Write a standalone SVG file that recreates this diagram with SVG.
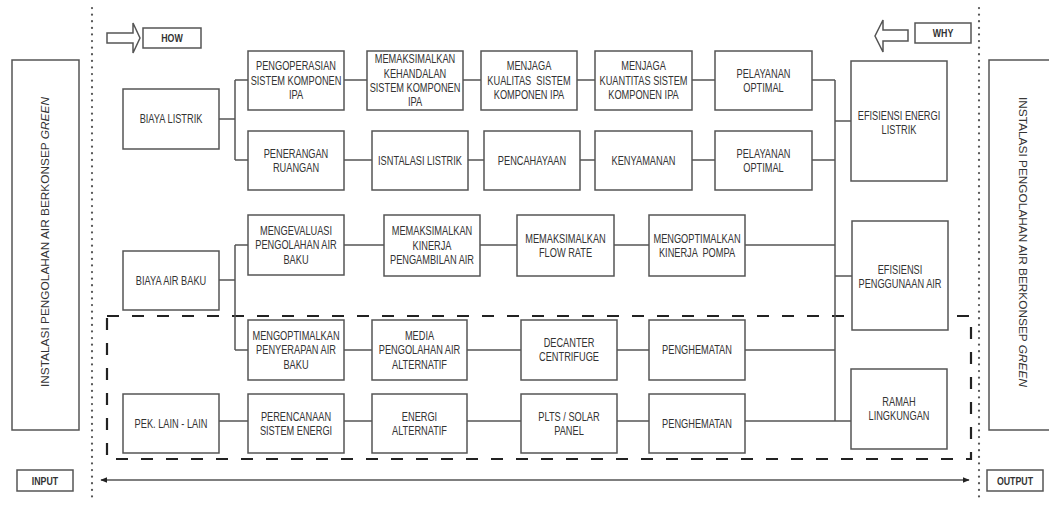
<svg xmlns="http://www.w3.org/2000/svg" width="1049" height="506" viewBox="0 0 1049 506">
<defs>
<style>
.b{fill:#fff;stroke:#555;stroke-width:1.5}
.t{font-family:"Liberation Sans",Arial,sans-serif;font-size:12px;fill:#333;text-anchor:middle}
.k{font-family:"Liberation Sans",Arial,sans-serif;font-size:11px;font-weight:bold;fill:#333;text-anchor:middle}
.s{font-family:"Liberation Sans",Arial,sans-serif;font-size:10.5px;fill:#333;text-anchor:middle}
.c{fill:none;stroke:#555;stroke-width:1.5}
.dot{fill:none;stroke:#555;stroke-width:2.2;stroke-dasharray:0.1 6.5;stroke-linecap:round}
.dash{fill:none;stroke:#222;stroke-width:2.2;stroke-dasharray:12 13}
</style>
<marker id="ah" viewBox="0 0 10 10" refX="9" refY="5" markerWidth="7" markerHeight="7" orient="auto-start-reverse" markerUnits="userSpaceOnUse">
<path d="M0,1 L10,5 L0,9 z" fill="#222"/>
</marker>
</defs>
<rect width="1049" height="506" fill="#fff"/>

<g id="guides">
<line class="dot" x1="92" y1="8" x2="92" y2="502"/>
<line class="dot" x1="979" y1="8" x2="979" y2="502"/>
<rect class="dash" x="107" y="316" width="864" height="143"/>
</g>

<g id="side-left">
<rect class="b" x="12" y="60" width="67" height="370"/>
<text class="s" transform="translate(49,242) rotate(-90)" textLength="290" lengthAdjust="spacingAndGlyphs">INSTALASI PENGOLAHAN AIR BERKONSEP <tspan font-style="italic">GREEN</tspan></text>
</g>
<g id="side-right">
<rect class="b" x="989" y="60" width="70" height="370"/>
<text class="s" transform="translate(1019,242) rotate(90)" textLength="290" lengthAdjust="spacingAndGlyphs">INSTALASI PENGOLAHAN AIR BERKONSEP <tspan font-style="italic">GREEN</tspan></text>
</g>

<g id="how">
<path class="b" d="M107,33 L133,33 L133,23 L140,38 L133,53 L133,43 L107,43 Z"/>
<rect class="b" x="143" y="28" width="58" height="20"/>
<text class="k" transform="translate(172,42) scale(0.8,1)">HOW</text>
</g>
<g id="why">
<path class="b" d="M908,30 L883,30 L883,20 L875,36 L883,52 L883,41 L908,41 Z"/>
<rect class="b" x="915" y="23" width="56" height="20"/>
<text class="k" transform="translate(943,37) scale(0.8,1)">WHY</text>
</g>
<g id="input">
<rect class="b" x="17" y="470" width="56" height="21"/>
<text class="k" transform="translate(45,484.5) scale(0.8,1)">INPUT</text>
</g>
<g id="output">
<rect class="b" x="987" y="470" width="56" height="21"/>
<text class="k" transform="translate(1015,484.5) scale(0.8,1)">OUTPUT</text>
</g>

<g id="connectors">
<line class="c" x1="101" y1="480" x2="969" y2="480" marker-start="url(#ah)" marker-end="url(#ah)"/>
<path class="c" d="M219,119 H235 M235,80 V160 M235,80 H248 M235,160 H248"/>
<path class="c" d="M344,80 H367 M463,80 H481 M577,80 H595 M692,80 H715 M812,80 H835"/>
<path class="c" d="M344,160 H372 M468,160 H484 M580,160 H595 M692,160 H715 M812,160 H835"/>
<path class="c" d="M835,80 V421 M835,121 H851 M835,276 H852 M835,421 H851"/>
<path class="c" d="M219,280 H235 M235,245 V350 M235,245 H248 M235,350 H248"/>
<path class="c" d="M344,245 H384 M480,245 H517 M614,245 H649 M745,245 H835"/>
<path class="c" d="M344,350 H372 M467,350 H521 M617,350 H649 M745,350 H835"/>
<path class="c" d="M219,421 H248 M344,421 H372 M467,421 H521 M617,421 H649 M745,421 H835"/>
</g>

<g id="biaya-listrik"><rect class="b" x="123" y="89" width="96" height="60"/>
<text class="t" transform="translate(171,123.3) scale(0.77,1)">BIAYA LISTRIK</text></g>

<g id="pengoperasian"><rect class="b" x="248" y="51" width="96" height="59"/>
<text class="t" transform="translate(296,70.3) scale(0.77,1)"><tspan x="0" y="0">PENGOPERASIAN</tspan><tspan x="0" dy="14.5">SISTEM KOMPONEN</tspan><tspan x="0" dy="14.5">IPA</tspan></text></g>

<g id="kehandalan"><rect class="b" x="367" y="51" width="96" height="59"/>
<text class="t" transform="translate(415,63.3) scale(0.77,1)"><tspan x="0" y="0">MEMAKSIMALKAN</tspan><tspan x="0" dy="14.3">KEHANDALAN</tspan><tspan x="0" dy="14.3">SISTEM KOMPONEN</tspan><tspan x="0" dy="14.3">IPA</tspan></text></g>

<g id="kualitas"><rect class="b" x="481" y="51" width="96" height="59"/>
<text class="t" transform="translate(529,70.3) scale(0.77,1)"><tspan x="0" y="0">MENJAGA</tspan><tspan x="0" dy="14.5" xml:space="preserve">KUALITAS  SISTEM</tspan><tspan x="0" dy="14.5">KOMPONEN IPA</tspan></text></g>

<g id="kuantitas"><rect class="b" x="595" y="51" width="97" height="59"/>
<text class="t" transform="translate(643.5,70.3) scale(0.77,1)"><tspan x="0" y="0">MENJAGA</tspan><tspan x="0" dy="14.5">KUANTITAS SISTEM</tspan><tspan x="0" dy="14.5">KOMPONEN IPA</tspan></text></g>

<g id="pelayanan-1"><rect class="b" x="715" y="51" width="97" height="59"/>
<text class="t" transform="translate(763.5,77.6) scale(0.77,1)"><tspan x="0" y="0">PELAYANAN</tspan><tspan x="0" dy="14.5">OPTIMAL</tspan></text></g>

<g id="penerangan"><rect class="b" x="248" y="131" width="96" height="59"/>
<text class="t" transform="translate(296,157.6) scale(0.77,1)"><tspan x="0" y="0">PENERANGAN</tspan><tspan x="0" dy="14.5">RUANGAN</tspan></text></g>

<g id="instalasi"><rect class="b" x="372" y="131" width="96" height="59"/>
<text class="t" transform="translate(420,164.8) scale(0.77,1)">ISNTALASI LISTRIK</text></g>

<g id="pencahayaan"><rect class="b" x="484" y="131" width="96" height="59"/>
<text class="t" transform="translate(532,164.8) scale(0.77,1)">PENCAHAYAAN</text></g>

<g id="kenyamanan"><rect class="b" x="595" y="131" width="97" height="59"/>
<text class="t" transform="translate(643.5,164.8) scale(0.77,1)">KENYAMANAN</text></g>

<g id="pelayanan-2"><rect class="b" x="715" y="131" width="97" height="59"/>
<text class="t" transform="translate(763.5,157.6) scale(0.77,1)"><tspan x="0" y="0">PELAYANAN</tspan><tspan x="0" dy="14.5">OPTIMAL</tspan></text></g>

<g id="efisiensi-energi"><rect class="b" x="851" y="61" width="96" height="120"/>
<text class="t" transform="translate(899,120) scale(0.77,1)"><tspan x="0" y="0">EFISIENSI ENERGI</tspan><tspan x="0" dy="14.5">LISTRIK</tspan></text></g>

<g id="biaya-air-baku"><rect class="b" x="123" y="251" width="96" height="59"/>
<text class="t" transform="translate(171,284.8) scale(0.77,1)">BIAYA AIR BAKU</text></g>

<g id="mengevaluasi"><rect class="b" x="248" y="215" width="96" height="60"/>
<text class="t" transform="translate(296,234.8) scale(0.77,1)"><tspan x="0" y="0">MENGEVALUASI</tspan><tspan x="0" dy="14.5">PENGOLAHAN AIR</tspan><tspan x="0" dy="14.5">BAKU</tspan></text></g>

<g id="kinerja-pengambilan"><rect class="b" x="384" y="215" width="96" height="61"/>
<text class="t" transform="translate(432,235.3) scale(0.77,1)"><tspan x="0" y="0">MEMAKSIMALKAN</tspan><tspan x="0" dy="14.5">KINERJA</tspan><tspan x="0" dy="14.5">PENGAMBILAN AIR</tspan></text></g>

<g id="flow-rate"><rect class="b" x="517" y="215" width="97" height="61"/>
<text class="t" transform="translate(565.5,242.6) scale(0.77,1)"><tspan x="0" y="0">MEMAKSIMALKAN</tspan><tspan x="0" dy="14.5">FLOW RATE</tspan></text></g>

<g id="kinerja-pompa"><rect class="b" x="649" y="215" width="96" height="61"/>
<text class="t" transform="translate(697,242.6) scale(0.77,1)"><tspan x="0" y="0">MENGOPTIMALKAN</tspan><tspan x="0" dy="14.5" xml:space="preserve">KINERJA  POMPA</tspan></text></g>

<g id="efisiensi-air"><rect class="b" x="852" y="221" width="96" height="109"/>
<text class="t" transform="translate(900,273.5) scale(0.77,1)"><tspan x="0" y="0">EFISIENSI</tspan><tspan x="0" dy="14.5">PENGGUNAAN AIR</tspan></text></g>

<g id="penyerapan"><rect class="b" x="248" y="320" width="96" height="60"/>
<text class="t" transform="translate(296,339.8) scale(0.77,1)"><tspan x="0" y="0">MENGOPTIMALKAN</tspan><tspan x="0" dy="14.5">PENYERAPAN AIR</tspan><tspan x="0" dy="14.5">BAKU</tspan></text></g>

<g id="media"><rect class="b" x="372" y="320" width="95" height="60"/>
<text class="t" transform="translate(419.5,339.8) scale(0.77,1)"><tspan x="0" y="0">MEDIA</tspan><tspan x="0" dy="14.5">PENGOLAHAN AIR</tspan><tspan x="0" dy="14.5">ALTERNATIF</tspan></text></g>

<g id="decanter"><rect class="b" x="521" y="320" width="96" height="60"/>
<text class="t" transform="translate(569,347) scale(0.77,1)"><tspan x="0" y="0">DECANTER</tspan><tspan x="0" dy="14.5">CENTRIFUGE</tspan></text></g>

<g id="penghematan-1"><rect class="b" x="649" y="320" width="96" height="60"/>
<text class="t" transform="translate(697,354.3) scale(0.77,1)">PENGHEMATAN</text></g>

<g id="pek-lain"><rect class="b" x="123" y="394" width="96" height="59"/>
<text class="t" transform="translate(171,427.8) scale(0.77,1)">PEK. LAIN - LAIN</text></g>

<g id="perencanaan"><rect class="b" x="248" y="394" width="96" height="59"/>
<text class="t" transform="translate(296,420.6) scale(0.77,1)"><tspan x="0" y="0">PERENCANAAN</tspan><tspan x="0" dy="14.5">SISTEM ENERGI</tspan></text></g>

<g id="energi-alternatif"><rect class="b" x="372" y="394" width="95" height="59"/>
<text class="t" transform="translate(419.5,420.6) scale(0.77,1)"><tspan x="0" y="0">ENERGI</tspan><tspan x="0" dy="14.5">ALTERNATIF</tspan></text></g>

<g id="plts"><rect class="b" x="521" y="394" width="96" height="59"/>
<text class="t" transform="translate(569,420.6) scale(0.77,1)"><tspan x="0" y="0">PLTS / SOLAR</tspan><tspan x="0" dy="14.5">PANEL</tspan></text></g>

<g id="penghematan-2"><rect class="b" x="649" y="394" width="96" height="59"/>
<text class="t" transform="translate(697,427.8) scale(0.77,1)">PENGHEMATAN</text></g>

<g id="ramah"><rect class="b" x="851" y="369" width="96" height="80"/>
<text class="t" transform="translate(899,406) scale(0.77,1)"><tspan x="0" y="0">RAMAH</tspan><tspan x="0" dy="14.5">LINGKUNGAN</tspan></text></g>
</svg>
